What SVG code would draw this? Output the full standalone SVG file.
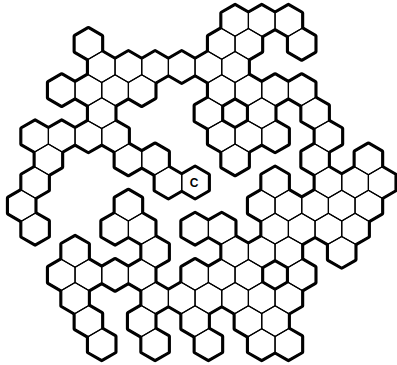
<svg xmlns="http://www.w3.org/2000/svg" xmlns:xlink="http://www.w3.org/1999/xlink" width="397" height="365" viewBox="0 0 397 365">
<defs>
<style>
.outer{fill:none;stroke:#000;stroke-width:5;stroke-linejoin:round}
.paper{fill:#fff;stroke:none}
.inner{fill:none;stroke:#000;stroke-width:1.2;stroke-linejoin:round}
.lbl{font-family:"Liberation Sans",Arial,sans-serif;font-size:12px;font-weight:bold;fill:#000}
</style>
<path id="h" d="M0,-15.4L13.33,-7.7L13.33,7.7L0,15.4L-13.33,7.7L-13.33,-7.7Z"/>
<g id="cells">
<g id="r0q17"><use href="#h" x="235.1" y="20.8"/></g>
<g id="r0q19"><use href="#h" x="261.7" y="20.8"/></g>
<g id="r0q21"><use href="#h" x="288.4" y="20.8"/></g>
<g id="r1q6"><use href="#h" x="88.4" y="43.9"/></g>
<g id="r1q16"><use href="#h" x="221.7" y="43.9"/></g>
<g id="r1q18"><use href="#h" x="248.4" y="43.9"/></g>
<g id="r1q22"><use href="#h" x="301.7" y="43.9"/></g>
<g id="r2q7"><use href="#h" x="101.7" y="67"/></g>
<g id="r2q9"><use href="#h" x="128.4" y="67"/></g>
<g id="r2q11"><use href="#h" x="155.1" y="67"/></g>
<g id="r2q13"><use href="#h" x="181.7" y="67"/></g>
<g id="r2q15"><use href="#h" x="208.4" y="67"/></g>
<g id="r2q17"><use href="#h" x="235.1" y="67"/></g>
<g id="r3q4"><use href="#h" x="61.7" y="90.1"/></g>
<g id="r3q6"><use href="#h" x="88.4" y="90.1"/></g>
<g id="r3q8"><use href="#h" x="115.1" y="90.1"/></g>
<g id="r3q10"><use href="#h" x="141.7" y="90.1"/></g>
<g id="r3q16"><use href="#h" x="221.7" y="90.1"/></g>
<g id="r3q18"><use href="#h" x="248.4" y="90.1"/></g>
<g id="r3q20"><use href="#h" x="275.1" y="90.1"/></g>
<g id="r3q22"><use href="#h" x="301.7" y="90.1"/></g>
<g id="r4q7"><use href="#h" x="101.7" y="113.2"/></g>
<g id="r4q15"><use href="#h" x="208.4" y="113.2"/></g>
<g id="r4q19"><use href="#h" x="261.7" y="113.2"/></g>
<g id="r4q23"><use href="#h" x="315.1" y="113.2"/></g>
<g id="r5q2"><use href="#h" x="35.1" y="136.3"/></g>
<g id="r5q4"><use href="#h" x="61.7" y="136.3"/></g>
<g id="r5q6"><use href="#h" x="88.4" y="136.3"/></g>
<g id="r5q8"><use href="#h" x="115.1" y="136.3"/></g>
<g id="r5q16"><use href="#h" x="221.7" y="136.3"/></g>
<g id="r5q18"><use href="#h" x="248.4" y="136.3"/></g>
<g id="r5q20"><use href="#h" x="275.1" y="136.3"/></g>
<g id="r5q24"><use href="#h" x="328.4" y="136.3"/></g>
<g id="r6q3"><use href="#h" x="48.4" y="159.4"/></g>
<g id="r6q9"><use href="#h" x="128.4" y="159.4"/></g>
<g id="r6q11"><use href="#h" x="155.1" y="159.4"/></g>
<g id="r6q17"><use href="#h" x="235.1" y="159.4"/></g>
<g id="r6q23"><use href="#h" x="315.1" y="159.4"/></g>
<g id="r6q27"><use href="#h" x="368.4" y="159.4"/></g>
<g id="r7q2"><use href="#h" x="35.1" y="182.5"/></g>
<g id="r7q12"><use href="#h" x="168.4" y="182.5"/></g>
<g id="r7q14"><use href="#h" x="195.1" y="182.5"/></g>
<g id="r7q20"><use href="#h" x="275.1" y="182.5"/></g>
<g id="r7q24"><use href="#h" x="328.4" y="182.5"/></g>
<g id="r7q26"><use href="#h" x="355.1" y="182.5"/></g>
<g id="r7q28"><use href="#h" x="381.7" y="182.5"/></g>
<g id="r8q1"><use href="#h" x="21.7" y="205.6"/></g>
<g id="r8q9"><use href="#h" x="128.4" y="205.6"/></g>
<g id="r8q19"><use href="#h" x="261.7" y="205.6"/></g>
<g id="r8q21"><use href="#h" x="288.4" y="205.6"/></g>
<g id="r8q23"><use href="#h" x="315.1" y="205.6"/></g>
<g id="r8q25"><use href="#h" x="341.7" y="205.6"/></g>
<g id="r8q27"><use href="#h" x="368.4" y="205.6"/></g>
<g id="r9q2"><use href="#h" x="35.1" y="228.7"/></g>
<g id="r9q8"><use href="#h" x="115.1" y="228.7"/></g>
<g id="r9q10"><use href="#h" x="141.7" y="228.7"/></g>
<g id="r9q14"><use href="#h" x="195.1" y="228.7"/></g>
<g id="r9q16"><use href="#h" x="221.7" y="228.7"/></g>
<g id="r9q20"><use href="#h" x="275.1" y="228.7"/></g>
<g id="r9q22"><use href="#h" x="301.7" y="228.7"/></g>
<g id="r9q24"><use href="#h" x="328.4" y="228.7"/></g>
<g id="r9q26"><use href="#h" x="355.1" y="228.7"/></g>
<g id="r10q5"><use href="#h" x="75.1" y="251.8"/></g>
<g id="r10q11"><use href="#h" x="155.1" y="251.8"/></g>
<g id="r10q17"><use href="#h" x="235.1" y="251.8"/></g>
<g id="r10q19"><use href="#h" x="261.7" y="251.8"/></g>
<g id="r10q21"><use href="#h" x="288.4" y="251.8"/></g>
<g id="r10q25"><use href="#h" x="341.7" y="251.8"/></g>
<g id="r11q4"><use href="#h" x="61.7" y="274.9"/></g>
<g id="r11q6"><use href="#h" x="88.4" y="274.9"/></g>
<g id="r11q8"><use href="#h" x="115.1" y="274.9"/></g>
<g id="r11q10"><use href="#h" x="141.7" y="274.9"/></g>
<g id="r11q14"><use href="#h" x="195.1" y="274.9"/></g>
<g id="r11q16"><use href="#h" x="221.7" y="274.9"/></g>
<g id="r11q18"><use href="#h" x="248.4" y="274.9"/></g>
<g id="r11q22"><use href="#h" x="301.7" y="274.9"/></g>
<g id="r12q5"><use href="#h" x="75.1" y="298"/></g>
<g id="r12q11"><use href="#h" x="155.1" y="298"/></g>
<g id="r12q13"><use href="#h" x="181.7" y="298"/></g>
<g id="r12q15"><use href="#h" x="208.4" y="298"/></g>
<g id="r12q17"><use href="#h" x="235.1" y="298"/></g>
<g id="r12q19"><use href="#h" x="261.7" y="298"/></g>
<g id="r12q21"><use href="#h" x="288.4" y="298"/></g>
<g id="r13q6"><use href="#h" x="88.4" y="321.1"/></g>
<g id="r13q10"><use href="#h" x="141.7" y="321.1"/></g>
<g id="r13q14"><use href="#h" x="195.1" y="321.1"/></g>
<g id="r13q18"><use href="#h" x="248.4" y="321.1"/></g>
<g id="r13q20"><use href="#h" x="275.1" y="321.1"/></g>
<g id="r14q7"><use href="#h" x="101.7" y="344.2"/></g>
<g id="r14q11"><use href="#h" x="155.1" y="344.2"/></g>
<g id="r14q15"><use href="#h" x="208.4" y="344.2"/></g>
<g id="r14q19"><use href="#h" x="261.7" y="344.2"/></g>
<g id="r14q21"><use href="#h" x="288.4" y="344.2"/></g>
</g>
</defs>
<rect width="397" height="365" fill="#fff"/>
<use href="#cells" class="outer"/>
<use href="#cells" class="paper"/>
<use href="#cells" class="inner"/>
<text class="lbl" x="194" y="186.8" text-anchor="middle">C</text>
</svg>
